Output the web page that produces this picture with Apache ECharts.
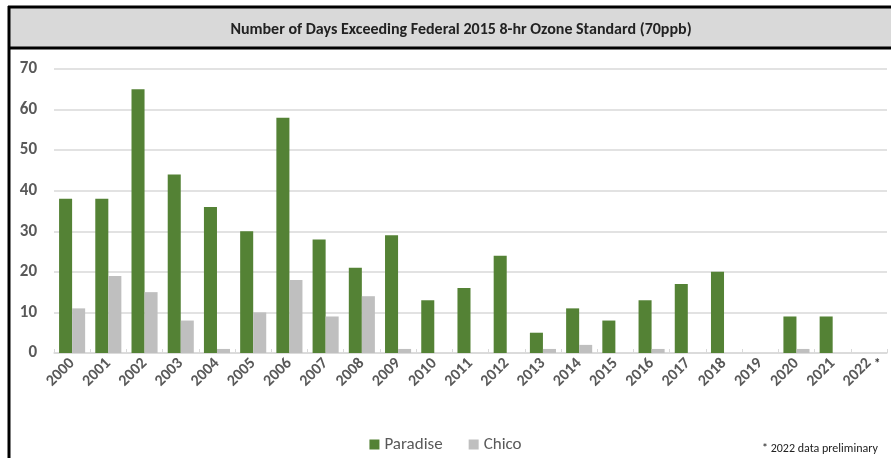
<!DOCTYPE html>
<html>
<head>
<meta charset="utf-8">
<script src="https://cdn.jsdelivr.net/npm/echarts@6/dist/echarts.min.js"></script>
<style>
  html, body { margin: 0; padding: 0; background: #fff; }
  #chartContainer { width: 891px; height: 458px; }
</style>
</head>
<body>
<div id="chartContainer"></div>
<script>
var years = ['2000', '2001', '2002', '2003', '2004', '2005', '2006', '2007', '2008', '2009', '2010',
    '2011', '2012', '2013', '2014', '2015', '2016', '2017', '2018', '2019', '2020', '2021', '2022'];
var paradise = [38, 38, 65, 44, 36, 30, 58, 28, 21, 29, 13, 16, 24, 5, 11, 8, 13, 17, 20, 0, 9, 9, 0];
var chico = [11, 19, 15, 8, 1, 10, 18, 9, 14, 1, 0, 0, 0, 1, 2, 0, 1, 0, 0, 0, 1, 0, 0];
var yTicks = [0, 10, 20, 30, 40, 50, 60, 70];

var font = 'Carlito, "Liberation Sans Narrow", "Liberation Sans", sans-serif';
var chart = echarts.init(document.getElementById('chartContainer'));

var option = {
    backgroundColor: '#fff',
    animation: false,
    title: {
        text: 'Number of Days Exceeding Federal 2015 8-hr Ozone Standard (70ppb)',
        left: 456,
        top: 17,
        textAlign: 'center',
        textStyle: {fontFamily: font, fontSize: 16, fontWeight: 'bold', color: '#222'}
    },
    graphic: [
        // header band + frame lines
        {type: 'rect', left: 9, top: 7, shape: {width: 890, height: 41}, style: {fill: '#d9d9d9'}, z: -1},
        {type: 'line', shape: {x1: 8, y1: 7, x2: 891, y2: 7}, style: {stroke: '#000', lineWidth: 3}},
        {type: 'line', shape: {x1: 8, y1: 48, x2: 891, y2: 48}, style: {stroke: '#000', lineWidth: 3}},
        {type: 'line', shape: {x1: 9, y1: 6, x2: 9, y2: 458}, style: {stroke: '#000', lineWidth: 3}},
        // asterisk next to 2022
        {type: 'text', left: 874, top: 358, style: {text: '*', font: 'bold 13px ' + font, fill: '#333'}},
        // footnote
        {type: 'text', left: 762, top: 443, style: {text: '* 2022 data preliminary', font: '12px ' + font, fill: '#222'}}
    ],
    legend: {
        data: ['Paradise', 'Chico'],
        left: 'center',
        top: 431,
        itemWidth: 10,
        itemHeight: 10,
        itemGap: 26,
        icon: 'rect',
        textStyle: {fontFamily: font, fontSize: 17, color: '#595959'}
    },
    grid: {left: 54, right: 4, top: 69, bottom: 105},
    xAxis: {
        type: 'category',
        data: years,
        axisLine: {lineStyle: {color: '#d9d9d9', width: 1.5}},
        axisTick: {show: true, inside: true, length: 4, lineStyle: {color: '#d9d9d9'}},
        axisLabel: {
            rotate: 45,
            margin: 8,
            fontFamily: font,
            fontSize: 16,
            fontWeight: 'bold',
            color: '#595959'
        }
    },
    yAxis: {
        type: 'value',
        min: yTicks[0],
        max: yTicks[yTicks.length - 1],
        interval: 10,
        axisLine: {show: false},
        axisTick: {show: false},
        splitLine: {lineStyle: {color: '#d9d9d9', width: 1.5}},
        axisLabel: {
            margin: 17,
            fontFamily: font,
            fontSize: 17,
            fontWeight: 'bold',
            color: '#595959'
        }
    },
    series: [
        {
            name: 'Paradise',
            type: 'bar',
            data: paradise,
            barGap: '0%',
            barCategoryGap: '28%',
            itemStyle: {color: '#548235'}
        },
        {
            name: 'Chico',
            type: 'bar',
            data: chico,
            itemStyle: {color: '#bfbfbf'}
        }
    ]
};
chart.setOption(option);
</script>
</body>
</html>
